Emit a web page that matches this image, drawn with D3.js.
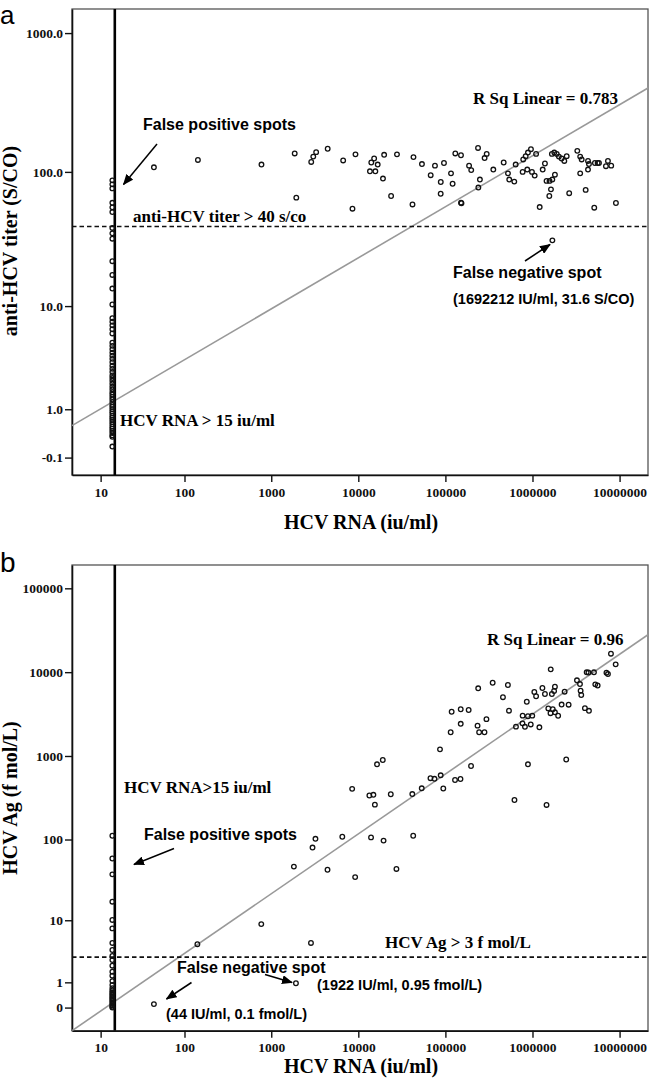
<!DOCTYPE html>
<html><head><meta charset="utf-8">
<script src="https://cdn.jsdelivr.net/npm/d3@7"></script>
<style>
body{margin:0;background:#fff;}
svg{display:block;}
.serif{font-family:"Liberation Serif","Times New Roman",serif;font-weight:bold;}
.sans{font-family:"Liberation Sans",Arial,sans-serif;font-weight:bold;}
.letter{font-family:"Liberation Sans",Arial,sans-serif;font-weight:normal;}
</style></head>
<body>
<script>
// ---------- DATA ----------
const xTicks = [10, 100, 1000, 10000, 100000, 1000000, 10000000];
const xTickLabels = ["10","100","1000","10000","100000","1000000","10000000"];
const yTicksA = [-0.1, 1, 10, 100, 1000];
const yTickLabelsA = ["-0.1","1.0","10.0","100.0","1000.0"];
const yTicksB = [0, 1, 10, 100, 1000, 10000, 100000];
const yTickLabelsB = ["0","1","10","100","1000","10000","100000"];

const xDomain = [4.16, 2.12e7];
const yDomainA = [-0.325, 1489];
const yDomainB = [-0.47, 189700];

const rnaCutoff = 15;
const titerCutoff = 40;
const agCutoff = 3;

// regression in log10(v+1) space: [intercept, slope]
const fitA = [-0.0777, 0.3663];
const fitB = [-0.785, 0.714];

// Panel a: HCV RNA (iu/ml) vs anti-HCV titer (S/CO), detectable RNA
const rnaA = [44,143,772,1860,1940,2880,3040,3280,4450,6700,9280,8570,15200,14100,16700,13600,15700,19200,19800,23800,27800,43000,41900,53800,67800,75900,88500,88300,96300,116000,121000,130000,151000,151000,153000,187000,198000,237000,249000,239000,282000,298000,355000,467000,523000,541000,618000,641000,783000,835000,887000,960000,771000,871000,986000,1060000,1100000,1210000,1310000,1390000,1450000,1570000,1690000,1810000,1630000,1560000,1670000,1780000,1900000,2010000,2160000,2320000,2470000,2640000,3270000,3530000,3670000,3530000,4080000,4340000,4450000,4340000,5120000,5210000,5600000,5800000,7350000,6970000,8020000,9080000,1692212];
const titerA = [108,122,113,136,65,118,129,139,147,121,134,54,125,117,113,101,101,89.5,133,66.8,134,128,58,114,94.6,111,84.5,69.4,116,97.6,82,136,132,59.7,59.2,111,103,149,88,77,126,135,104,117,97.6,88,85,113,123,130,138,146,100,104,100,94,135,55.5,104,115,86,86,88,95.4,74.7,66.8,135,138,135,129,125,120,130,70,142,129,123,97.6,74,120,114,104,54.9,116,116,116,120,110,111,59.4,31.6];
// Panel a: samples with RNA below the cut-off (plotted at ~14 iu/ml)
const lowRnaA = 14;
const lowTiterA = [86.8,81.2,75.9,59.6,55.2,51.0,39.0,35.6,32.5,22.1,17.4,13.7,10.3,8.0,7.5,7.0,6.5,6.0,5.0,4.7,4.4,4.1,3.85,3.6,3.35,3.1,2.9,2.7,2.5,2.35,2.2,2.05,1.9,1.78,1.65,1.55,1.45,1.35,1.25,1.15,1.08,1.0,0.93,0.87,0.8,0.74,0.68,0.62,0.56,0.5,0.45,0.4,0.35,0.3,0.27,0.08];

// Panel b: HCV RNA (iu/ml) vs HCV Ag (f mol/L)
const rnaB = [7960000,9020000,1620000,4190000,4390000,5080000,7070000,7350000,3240000,3510000,3570000,3630000,5260000,5600000,2340000,1810000,1770000,1670000,1300000,1390000,1050000,1100000,860000,238000,349000,522000,458000,537000,118000,150000,185000,150000,115000,234000,244000,281000,296000,771000,887000,994000,646000,767000,819000,955000,1200000,1520000,1710000,1610000,1810000,1970000,2160000,2600000,4000000,4450000,86700,16400,19100,197000,887000,2440000,67400,75000,88300,129000,149000,94600,53500,41700,23600,13400,14900,15500,8500,621000,1450000,3220,2980,6550,14000,19500,42700,1820,4430,9200,27400,768,141,2860,1922,44];
const agB = [16600,12400,10800,9960,9900,9960,9850,9500,8000,7220,6010,5340,7160,6930,5850,6700,5960,5490,6470,5490,5800,5160,4440,6420,7480,7030,5030,3470,3370,3610,3540,2420,1920,2300,1920,1920,2750,3030,2980,3030,2240,2450,2230,2380,2200,3690,3610,3240,3320,3020,4110,4090,3720,3460,1200,796,895,759,796,908,543,534,588,517,531,409,411,351,349,337,344,262,405,298,260,102,80,108,106,97,111,47,43,35,44,8.9,4.7,4.9,0.95,0.1];
const lowRnaB = 14;
const lowAgB = [111,59,37.8,17.3,10.1,7.8,4.9,3.86,3.12,2.69,2.16,1.68,1.40,1.07,0.86,0.70,0.6,0.53,0.46,0.41,0.35,0.30,0.25,0.20,0.15,0.10,0.06,0.02,0];

// ---------- DRAW ----------
const W = 650, H = 1088;
const tf = v => Math.log10(v + 1);
const svg = d3.select("body").append("svg").attr("width", W).attr("height", H);
const defs = svg.append("defs");
defs.append("marker").attr("id","ah").attr("markerUnits","userSpaceOnUse")
  .attr("markerWidth",11).attr("markerHeight",9).attr("refX",10).attr("refY",4.5)
  .attr("orient","auto").append("path").attr("d","M0,0 L11,4.5 L0,9 Z").attr("fill","#000");

function panel(cfg) {
  const g = svg.append("g");
  const x = d3.scaleLinear().domain(xDomain.map(tf)).range([cfg.left, cfg.right]);
  const y = d3.scaleLinear().domain(cfg.yDomain.map(tf)).range([cfg.bottom, cfg.top]);
  const clipId = "clip" + cfg.id;
  defs.append("clipPath").attr("id", clipId).append("rect")
    .attr("x", cfg.left).attr("y", cfg.top).attr("width", cfg.right - cfg.left).attr("height", cfg.bottom - cfg.top);

  // frame
  g.append("rect").attr("x", cfg.left).attr("y", cfg.top)
    .attr("width", cfg.right - cfg.left).attr("height", cfg.bottom - cfg.top)
    .attr("fill","none").attr("stroke","#555").attr("stroke-width",1.3);

  // axes
  const ax = g.append("g").attr("transform", `translate(0,${cfg.bottom})`)
    .call(d3.axisBottom(x).tickValues(xTicks.map(tf)).tickFormat((d,i)=>xTickLabels[i]).tickSize(7).tickSizeOuter(0).tickPadding(5));
  const ay = g.append("g").attr("transform", `translate(${cfg.left},0)`)
    .call(d3.axisLeft(y).tickValues(cfg.yTicks.map(tf)).tickFormat((d,i)=>cfg.yTickLabels[i]).tickSize(7).tickSizeOuter(0).tickPadding(2));
  [ax, ay].forEach(a => {
    a.select(".domain").attr("stroke","#111").attr("stroke-width",1.6);
    a.selectAll(".tick line").attr("stroke","#111").attr("stroke-width",1.4);
    a.selectAll(".tick text").attr("class","serif").attr("font-size",13.5).attr("fill","#111");
  });

  const plot = g.append("g").attr("clip-path", `url(#${clipId})`);
  // regression line
  const lx0 = tf(xDomain[0]), lx1 = tf(xDomain[1]);
  plot.append("line")
    .attr("x1", x(lx0)).attr("y1", y(cfg.fit[0] + cfg.fit[1]*lx0))
    .attr("x2", x(lx1)).attr("y2", y(cfg.fit[0] + cfg.fit[1]*lx1))
    .attr("stroke","#999").attr("stroke-width",1.6);
  // horizontal cut-off (dashed)
  plot.append("line").attr("x1", cfg.left).attr("x2", cfg.right)
    .attr("y1", y(tf(cfg.hCut))).attr("y2", y(tf(cfg.hCut)))
    .attr("stroke","#111").attr("stroke-width",1.6).attr("stroke-dasharray","4.5,3");
  // vertical cut-off
  plot.append("line").attr("x1", x(tf(rnaCutoff))).attr("x2", x(tf(rnaCutoff)))
    .attr("y1", cfg.top).attr("y2", cfg.bottom)
    .attr("stroke","#000").attr("stroke-width",2.6);

  // points
  const pts = cfg.xs.map((v,i)=>[v, cfg.ys[i]]).concat(cfg.lowYs.map(v=>[cfg.lowX, v]));
  plot.selectAll("circle.pt").data(pts).enter().append("circle")
    .attr("class","pt").attr("cx", d=>x(tf(d[0]))).attr("cy", d=>y(tf(d[1])))
    .attr("r",2.3).attr("fill","none").attr("stroke","#111").attr("stroke-width",1.3);

  // axis titles
  g.append("text").attr("class","serif").attr("font-size",20)
    .attr("x", 361).attr("y", cfg.xTitleY).attr("text-anchor","middle").text("HCV RNA (iu/ml)");
  g.append("text").attr("class","serif").attr("font-size",20)
    .attr("transform", `translate(17,${cfg.yTitleCY}) rotate(-90)`).attr("text-anchor","middle").text(cfg.yTitle);
  // panel letter
  g.append("text").attr("class","letter").attr("font-size",cfg.letterSize)
    .attr("x", 0).attr("y", cfg.letterY).text(cfg.letter);

  // annotations
  cfg.texts.forEach(tx => {
    g.append("text").attr("class", tx.f).attr("font-size", tx.s).attr("x", tx.x).attr("y", tx.y).text(tx.t);
  });
  cfg.arrows.forEach(a => {
    g.append("line").attr("x1",a[0]).attr("y1",a[1]).attr("x2",a[2]).attr("y2",a[3])
      .attr("stroke","#000").attr("stroke-width",1.5).attr("marker-end","url(#ah)");
  });
}

panel({
  id:"a", top:9, bottom:475, left:72, right:648,
  yDomain:yDomainA, yTicks:yTicksA, yTickLabels:yTickLabelsA,
  fit:fitA, hCut:titerCutoff,
  xs:rnaA, ys:titerA, lowX:lowRnaA, lowYs:lowTiterA,
  xTitleY:529, yTitleCY:241, yTitle:"anti-HCV titer (S/CO)",
  letter:"a", letterY:24, letterSize:26,
  texts:[
    {f:"sans", s:16, x:143, y:130, t:"False positive spots"},
    {f:"serif", s:17, x:473, y:104, t:"R Sq Linear = 0.783"},
    {f:"serif", s:17, x:133, y:222, t:"anti-HCV titer > 40 s/co"},
    {f:"serif", s:17, x:120, y:426, t:"HCV RNA > 15 iu/ml"},
    {f:"sans", s:16, x:453, y:278, t:"False negative spot"},
    {f:"sans", s:14.5, x:453, y:304, t:"(1692212 IU/ml, 31.6 S/CO)"}
  ],
  arrows:[[157,144,123.5,184.5],[525,261,550,244.5]]
});

panel({
  id:"b", top:565, bottom:1030.7, left:72, right:648,
  yDomain:yDomainB, yTicks:yTicksB, yTickLabels:yTickLabelsB,
  fit:fitB, hCut:agCutoff,
  xs:rnaB, ys:agB, lowX:lowRnaB, lowYs:lowAgB,
  xTitleY:1073, yTitleCY:798, yTitle:"HCV Ag (f mol/L)",
  letter:"b", letterY:572, letterSize:28,
  texts:[
    {f:"serif", s:17, x:487, y:645, t:"R Sq Linear = 0.96"},
    {f:"serif", s:17, x:124, y:793, t:"HCV RNA>15 iu/ml"},
    {f:"sans", s:16, x:144, y:840, t:"False positive spots"},
    {f:"serif", s:17, x:385, y:948, t:"HCV Ag > 3 f mol/L"},
    {f:"sans", s:16, x:177, y:973, t:"False negative spot"},
    {f:"sans", s:14.5, x:317, y:990, t:"(1922 IU/ml, 0.95 fmol/L)"},
    {f:"sans", s:14.5, x:166, y:1019, t:"(44 IU/ml, 0.1 fmol/L)"}
  ],
  arrows:[[174,848.5,134,864.5],[265,974.5,292,982.5],[191.5,982.5,166.5,999]]
});
</script>
</body></html>
